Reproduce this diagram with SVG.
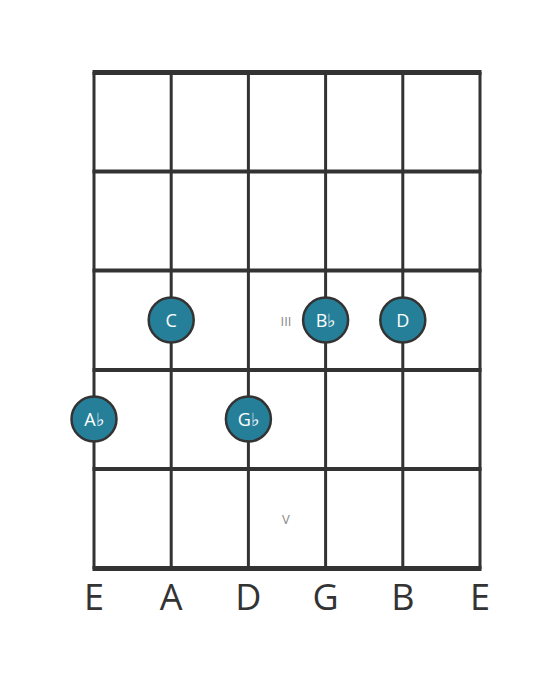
<svg xmlns="http://www.w3.org/2000/svg" width="560" height="682" viewBox="0 0 560 682">
<style>
.str{stroke:#333;stroke-width:3}
.fret{stroke:#333;stroke-width:4}
.nut{stroke:#333;stroke-width:5}
.dot{fill:#267f99;stroke:#333;stroke-width:2.5}
.nt{fill:#fff;font-family:"Open Sans","Noto Sans",sans-serif;font-size:18px;text-anchor:middle}
.sl{fill:#333;font-family:"Open Sans","Noto Sans",sans-serif;font-size:36px;text-anchor:middle}
.fn{fill:#888;font-family:"Open Sans","Noto Sans",sans-serif;font-size:13px;text-anchor:middle}
</style>
<rect width="560" height="682" fill="#fff"/>
<g id="connectors">
<line class="str" x1="94" y1="72" x2="94" y2="569"/>
<line class="str" x1="171.2" y1="72" x2="171.2" y2="569"/>
<line class="str" x1="248.4" y1="72" x2="248.4" y2="569"/>
<line class="str" x1="325.6" y1="72" x2="325.6" y2="569"/>
<line class="str" x1="402.8" y1="72" x2="402.8" y2="569"/>
<line class="str" x1="480" y1="72" x2="480" y2="569"/>
<line class="nut" x1="92.5" y1="72.5" x2="481.5" y2="72.5"/>
<line class="fret" x1="92.5" y1="171.5" x2="481.5" y2="171.5"/>
<line class="fret" x1="92.5" y1="270.5" x2="481.5" y2="270.5"/>
<line class="fret" x1="92.5" y1="370" x2="481.5" y2="370"/>
<line class="fret" x1="92.5" y1="469" x2="481.5" y2="469"/>
<line class="nut" x1="92.5" y1="568.5" x2="481.5" y2="568.5"/>
</g>
<text class="fn" x="286" y="326">III</text>
<text class="fn" x="286" y="524">V</text>
<g id="n-C"><circle class="dot" cx="171.2" cy="320" r="22.5"/><text class="nt" x="171.2" y="326.5">C</text></g>
<g id="n-Bb"><circle class="dot" cx="325.6" cy="320" r="22.5"/><text class="nt" x="325.6" y="326.5">B♭</text></g>
<g id="n-D"><circle class="dot" cx="402.8" cy="320" r="22.5"/><text class="nt" x="402.8" y="326.5">D</text></g>
<g id="n-Ab"><circle class="dot" cx="94" cy="419" r="22.5"/><text class="nt" x="94" y="425.5">A♭</text></g>
<g id="n-Gb"><circle class="dot" cx="248.4" cy="419" r="22.5"/><text class="nt" x="248.4" y="425.5">G♭</text></g>
<g id="labels">
<text class="sl" x="94" y="610">E</text>
<text class="sl" x="171.2" y="610">A</text>
<text class="sl" x="248.4" y="610">D</text>
<text class="sl" x="325.6" y="610">G</text>
<text class="sl" x="402.8" y="610">B</text>
<text class="sl" x="480" y="610">E</text>
</g>
</svg>
